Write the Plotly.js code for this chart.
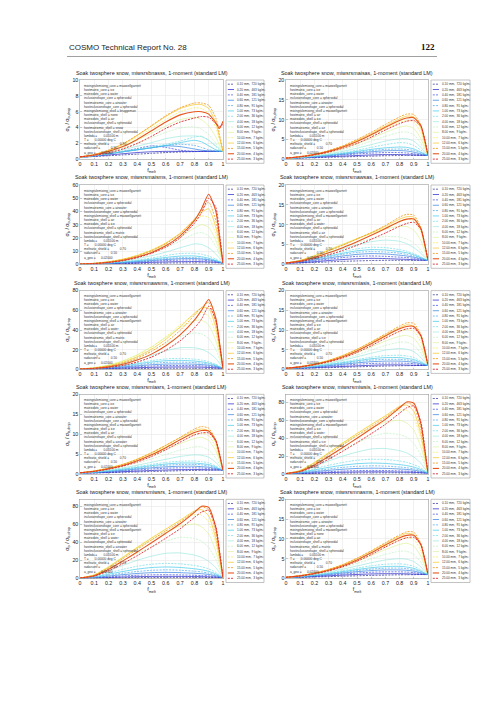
<!DOCTYPE html>
<html><head><meta charset="utf-8">
<script src="https://cdn.plot.ly/plotly-3.0.1.min.js"></script>
<style>html,body{margin:0;padding:0;background:#fff}#chart{width:504px;height:712px}</style>
</head><body><div id="chart"></div>
<script>
// ---------------- data ----------------
const fMelt = [0, 0.1, 0.2, 0.3, 0.4, 0.5, 0.6, 0.7, 0.8, 0.85, 0.9, 0.95, 0.975, 1];
const sizeLabels = ['0.10','0.20','0.40','0.60','0.80','1.00','2.00','4.00','6.00','8.00','10.00','12.00','15.00','20.00','25.00'];
const densities = [720, 463, 181, 121, 91, 73, 36, 18, 12, 9, 7, 6, 5, 4, 3];
const shellCodes = ['bnasss','maisas','maisms','mawsas','mawsms','miasis','miasrs','miwsis','miwsrs','mnasms'];
const yMax = [10, 20, 60, 20, 80, 20, 20, 89, 88, 20];
const yStep = [2, 5, 10, 5, 20, 5, 5, 20, 20, 5];

const p1 = [
 [0.25,0.35,0.45,0.55,0.65,0.75,0.85,0.92,0.97,0.99,1.0,1.0,1.0,1.0],
 [0.25,0.4,0.55,0.7,0.85,0.95,1.0,1.0,1.0,1.0,1.0,1.0,1.0,1.0],
 [0.25,0.45,0.7,1.0,1.35,1.7,1.5,1.15,1.0,1.0,1.0,1.0,1.0,1.0],
 [0.25,0.45,0.7,0.95,1.2,1.45,1.7,1.6,1.3,1.15,1.05,1.0,1.0,1.0],
 [0.25,0.45,0.7,0.95,1.2,1.45,1.7,1.9,1.75,1.5,1.2,1.05,1.0,1.0],
 [0.25,0.45,0.7,0.95,1.2,1.45,1.75,2.1,2.4,2.2,1.7,1.2,1.05,1.0],
 [0.25,0.45,0.7,1.0,1.3,1.6,1.9,2.3,2.8,2.9,2.4,1.6,1.2,1.0],
 [0.25,0.5,0.8,1.2,1.65,2.1,2.6,2.9,2.95,2.85,2.4,1.7,1.3,1.0],
 [0.25,0.5,0.9,1.4,2.0,2.7,3.4,3.95,4.1,3.8,3.1,2.0,1.4,1.0],
 [0.25,0.55,1.0,1.6,2.4,3.3,4.2,5.0,5.3,5.0,4.2,2.8,1.8,1.0],
 [0.3,0.6,1.1,1.8,2.8,3.9,5.0,6.0,6.5,6.4,5.8,4.0,2.5,1.0],
 [0.3,0.6,1.15,1.9,3.0,4.2,5.4,6.4,6.9,6.9,6.4,4.6,2.8,1.0],
 [0.3,0.6,1.15,1.95,3.05,4.25,5.5,6.5,7.1,7.1,6.8,5.2,3.2,1.0],
 [0.3,0.55,1.0,1.6,2.5,3.6,4.7,5.6,6.0,6.0,5.7,4.6,3.9,4.8],
 [0.3,0.5,0.8,1.3,2.0,2.9,3.9,4.7,5.2,5.4,5.3,4.5,4.1,4.4]
];
const p2 = [
 [0.2,0.3,0.4,0.5,0.6,0.7,0.8,0.9,0.95,0.97,1.0,1.0,1.0,1.0],
 [0.2,0.35,0.5,0.65,0.8,0.95,1.1,1.2,1.2,1.15,1.1,1.0,1.0,1.0],
 [0.2,0.4,0.6,0.85,1.1,1.35,1.55,1.7,1.7,1.6,1.4,1.15,1.05,1.0],
 [0.2,0.4,0.65,0.95,1.25,1.6,1.9,2.15,2.2,2.1,1.8,1.35,1.15,1.0],
 [0.2,0.4,0.7,1.0,1.4,1.8,2.2,2.5,2.6,2.5,2.2,1.6,1.25,1.0],
 [0.2,0.45,0.75,1.1,1.5,2.0,2.5,2.9,3.1,3.0,2.6,1.8,1.35,1.0],
 [0.2,0.45,0.8,1.2,1.7,2.3,3.0,3.7,4.2,4.1,3.5,2.3,1.6,1.0],
 [0.2,0.5,0.9,1.4,2.0,2.8,3.7,4.6,5.2,5.2,4.6,3.0,1.9,1.0],
 [0.25,0.55,1.0,1.6,2.4,3.4,4.6,5.8,6.8,6.9,6.2,4.0,2.4,1.0],
 [0.25,0.6,1.1,1.8,2.7,3.9,5.3,6.8,8.1,8.4,7.8,5.2,3.0,1.0],
 [0.3,0.65,1.2,2.0,3.0,4.4,6.0,7.7,9.3,9.8,9.4,6.6,3.7,1.0],
 [0.3,0.7,1.3,2.1,3.3,4.8,6.5,8.4,10.2,10.9,10.7,7.8,4.4,1.0],
 [0.3,0.7,1.3,2.2,3.4,5.0,6.8,8.8,10.7,11.4,11.3,8.6,4.9,1.0],
 [0.3,0.65,1.2,2.0,3.1,4.5,6.2,8.1,9.8,10.4,10.5,8.5,5.2,1.0],
 [0.3,0.6,1.1,1.8,2.8,4.0,5.6,7.4,9.0,9.6,9.8,8.3,5.4,1.0]
];
const p3 = [
 [0.2,0.25,0.35,0.5,0.65,0.8,0.95,1.05,1.1,1.1,1.05,1.0,1.0,1.0],
 [0.2,0.3,0.5,0.8,1.1,1.5,1.8,2.0,2.1,2.0,1.8,1.5,1.25,1.0],
 [0.2,0.35,0.65,1.1,1.6,2.2,2.8,3.2,3.3,3.1,2.7,2.0,1.5,1.0],
 [0.2,0.38,0.75,1.3,2.0,2.8,3.6,4.2,4.3,4.0,3.4,2.4,1.7,1.0],
 [0.2,0.4,0.85,1.5,2.3,3.3,4.3,5.0,5.0,4.6,3.8,2.6,1.8,1.0],
 [0.2,0.45,0.95,1.7,2.7,3.9,5.2,6.2,6.3,5.7,4.6,3.0,2.0,1.0],
 [0.2,0.5,1.1,2.0,3.2,4.8,6.6,8.2,8.3,7.6,6.2,4.0,2.5,1.0],
 [0.2,0.6,1.4,2.6,4.3,6.5,9.2,12.5,15.4,15.0,12.5,7.8,4.5,1.0],
 [0.2,0.7,1.7,3.3,5.6,8.7,12.6,17.5,23.0,24.0,21.5,13.5,7.5,1.0],
 [0.2,0.75,1.9,3.7,6.4,10.0,14.5,20.5,27.5,30.0,28.0,18.0,10.0,1.0],
 [0.2,0.8,2.0,4.0,7.0,11.0,16.3,23.5,32.5,36.5,35.5,23.0,12.5,1.0],
 [0.2,0.75,1.9,3.8,6.6,10.6,16.0,23.5,34.0,39.5,42.0,28.0,15.0,1.0],
 [0.2,0.7,1.8,3.6,6.3,10.2,15.5,23.0,34.0,41.0,47.0,33.0,18.0,1.0],
 [0.2,0.6,1.5,3.0,5.5,9.0,14.0,21.5,33.0,42.0,53.0,40.0,21.0,1.0],
 [0.2,0.55,1.3,2.7,5.0,8.3,13.0,20.0,31.0,39.0,50.0,43.0,24.0,1.0]
];
const p4 = [
 [0.3,0.35,0.45,0.6,0.75,0.85,0.95,1.0,1.0,1.0,1.0,1.0,1.0,1.0],
 [0.3,0.4,0.65,0.95,1.2,1.4,1.5,1.45,1.3,1.25,1.15,1.05,1.0,1.0],
 [0.3,0.5,0.9,1.3,1.7,2.0,2.1,2.0,1.8,1.7,1.5,1.25,1.1,1.0],
 [0.3,0.6,1.1,1.6,2.1,2.5,2.7,2.6,2.3,2.1,1.8,1.4,1.2,1.0],
 [0.3,0.7,1.3,1.9,2.5,3.0,3.2,3.1,2.8,2.5,2.1,1.6,1.25,1.0],
 [0.3,0.75,1.4,2.1,2.8,3.4,3.7,3.6,3.2,2.9,2.4,1.7,1.3,1.0],
 [0.3,0.8,1.6,2.4,3.2,3.9,4.3,4.2,3.7,3.3,2.7,1.9,1.4,1.0],
 [0.3,0.9,1.9,2.9,3.9,4.9,5.7,6.1,5.8,5.2,4.2,2.8,1.8,1.0],
 [0.3,0.95,2.0,3.2,4.4,5.5,6.4,7.0,6.9,6.4,5.4,3.5,2.2,1.0],
 [0.3,1.0,2.2,3.7,5.1,6.5,7.8,8.9,9.6,9.5,8.6,6.0,3.5,1.0],
 [0.3,1.0,2.2,3.6,5.0,6.4,7.8,9.3,10.8,11.3,11.0,8.0,4.6,1.0],
 [0.3,0.95,2.1,3.5,4.9,6.4,7.9,9.6,11.4,12.0,11.9,8.8,5.0,1.0],
 [0.3,0.9,2.0,3.4,4.8,6.4,8.0,9.8,11.9,12.6,12.4,9.3,5.3,1.0],
 [0.3,0.8,1.7,2.9,4.2,5.7,7.3,9.0,10.8,11.4,11.4,9.0,5.4,1.0],
 [0.3,0.7,1.4,2.4,3.5,4.8,6.3,7.9,9.6,10.3,10.6,8.8,5.5,1.0]
];
const p5 = [
 [0.3,0.4,0.5,0.7,0.85,1.0,1.1,1.15,1.1,1.1,1.05,1.0,1.0,1.0],
 [0.3,0.5,0.9,1.3,1.7,2.1,2.4,2.5,2.4,2.3,2.0,1.6,1.3,1.0],
 [0.3,0.6,1.2,1.9,2.7,3.4,3.9,4.0,3.8,3.6,3.1,2.3,1.7,1.0],
 [0.3,0.7,1.5,2.5,3.6,4.7,5.4,5.6,5.3,4.9,4.2,3.0,2.1,1.0],
 [0.3,0.8,1.8,3.1,4.6,6.1,7.1,7.4,6.9,6.3,5.3,3.6,2.4,1.0],
 [0.3,0.9,2.1,3.7,5.6,7.5,8.8,9.2,8.5,7.7,6.4,4.3,2.8,1.0],
 [0.3,1.0,2.4,4.3,6.6,8.9,10.6,11.2,10.4,9.4,7.8,5.2,3.3,1.0],
 [0.35,1.3,3.2,6.0,9.8,14.2,18.8,22.0,22.0,20.5,17.0,11.0,6.5,1.0],
 [0.4,1.6,4.0,7.6,12.6,19.0,26.5,33.5,37.0,36.0,31.5,20.0,11.0,1.0],
 [0.45,1.8,4.5,8.8,15.0,23.0,32.5,42.5,49.5,50.0,45.0,29.0,16.0,1.0],
 [0.4,1.7,4.2,8.2,14.3,22.5,33.0,45.0,56.0,58.0,54.0,36.0,19.0,1.0],
 [0.4,1.5,3.7,7.2,12.8,20.5,30.5,43.0,57.0,62.5,62.0,42.0,22.0,1.0],
 [0.35,1.3,3.2,6.3,11.3,18.3,27.5,39.5,55.0,63.0,68.0,47.0,25.0,1.0],
 [0.3,1.1,2.6,5.2,9.5,15.5,24.0,35.0,50.0,60.0,71.0,52.0,28.0,1.0],
 [0.3,0.9,2.0,4.0,7.5,12.5,19.5,29.0,42.0,51.0,64.0,50.0,27.0,1.0]
];
const p6 = [
 [0.25,0.28,0.35,0.45,0.55,0.65,0.75,0.85,0.92,0.95,0.97,1.0,1.0,1.0],
 [0.25,0.3,0.45,0.6,0.75,0.9,1.05,1.15,1.15,1.1,1.05,1.0,1.0,1.0],
 [0.25,0.35,0.55,0.8,1.05,1.3,1.5,1.6,1.6,1.55,1.45,1.2,1.1,1.0],
 [0.25,0.4,0.65,0.95,1.3,1.65,1.95,2.1,2.1,2.0,1.8,1.4,1.15,1.0],
 [0.25,0.42,0.75,1.1,1.5,1.95,2.35,2.55,2.55,2.4,2.15,1.6,1.25,1.0],
 [0.25,0.45,0.8,1.25,1.7,2.2,2.7,3.0,3.0,2.8,2.5,1.8,1.35,1.0],
 [0.25,0.5,0.9,1.4,1.9,2.5,3.1,3.5,3.6,3.4,3.0,2.1,1.5,1.0],
 [0.25,0.55,1.0,1.6,2.3,3.2,4.1,4.9,5.3,5.1,4.5,3.0,1.9,1.0],
 [0.25,0.6,1.1,1.8,2.6,3.7,4.9,6.1,6.9,6.9,6.1,4.1,2.5,1.0],
 [0.25,0.65,1.2,2.0,3.0,4.3,5.7,7.2,8.4,8.6,7.9,5.5,3.2,1.0],
 [0.3,0.7,1.3,2.2,3.3,4.8,6.4,8.1,9.6,10.1,9.6,6.9,3.9,1.0],
 [0.3,0.72,1.4,2.3,3.55,5.1,6.9,8.8,10.6,11.3,11.0,8.1,4.6,1.0],
 [0.3,0.7,1.35,2.25,3.5,5.1,7.0,9.0,11.0,11.8,11.7,8.8,5.0,1.0],
 [0.3,0.65,1.25,2.05,3.2,4.7,6.5,8.5,10.3,10.9,10.9,8.6,5.2,1.0],
 [0.3,0.6,1.15,1.9,2.9,4.3,6.0,7.9,9.7,10.3,10.4,8.5,5.4,1.0]
];
const p7 = [
 [0.25,0.27,0.33,0.42,0.52,0.62,0.72,0.82,0.9,0.93,0.96,1.0,1.0,1.0],
 [0.25,0.3,0.42,0.58,0.73,0.88,1.0,1.1,1.12,1.1,1.05,1.0,1.0,1.0],
 [0.25,0.34,0.52,0.76,1.0,1.25,1.45,1.55,1.55,1.5,1.4,1.2,1.1,1.0],
 [0.25,0.38,0.62,0.92,1.25,1.55,1.8,1.95,1.95,1.85,1.7,1.35,1.15,1.0],
 [0.25,0.42,0.72,1.05,1.45,1.85,2.2,2.4,2.4,2.3,2.05,1.55,1.25,1.0],
 [0.25,0.45,0.8,1.2,1.65,2.1,2.5,2.75,2.75,2.6,2.35,1.75,1.3,1.0],
 [0.25,0.5,0.9,1.35,1.85,2.4,2.9,3.2,3.25,3.1,2.8,2.0,1.5,1.0],
 [0.25,0.55,1.0,1.55,2.2,2.95,3.7,4.4,4.8,4.7,4.2,2.9,1.9,1.0],
 [0.25,0.65,1.2,1.9,2.8,3.8,4.9,6.0,6.8,6.8,6.0,4.0,2.5,1.0],
 [0.3,0.72,1.35,2.2,3.3,4.6,6.1,7.6,8.9,9.2,8.4,5.8,3.4,1.0],
 [0.3,0.78,1.5,2.4,3.6,5.1,6.8,8.6,10.0,10.3,9.6,6.8,3.9,1.0],
 [0.3,0.78,1.5,2.45,3.75,5.35,7.2,9.1,10.9,11.3,10.8,7.8,4.4,1.0],
 [0.3,0.75,1.45,2.4,3.7,5.3,7.2,9.2,11.3,11.9,11.5,8.5,4.8,1.0],
 [0.3,0.7,1.3,2.15,3.3,4.8,6.6,8.6,10.4,10.9,10.8,8.4,5.0,1.0],
 [0.3,0.62,1.2,2.0,3.0,4.4,6.1,8.0,9.8,10.3,10.3,8.3,5.2,1.0]
];
const p8 = [
 [0.3,0.4,0.6,0.8,1.0,1.15,1.25,1.3,1.25,1.2,1.15,1.05,1.0,1.0],
 [0.3,0.6,1.1,1.6,2.0,2.3,2.45,2.4,2.2,2.1,1.9,1.5,1.2,1.0],
 [0.3,0.8,1.7,2.6,3.3,3.8,4.0,3.9,3.5,3.2,2.8,2.0,1.5,1.0],
 [0.3,1.1,2.6,4.1,5.3,6.2,6.5,6.3,5.6,5.1,4.3,2.9,2.0,1.0],
 [0.3,1.4,3.5,5.6,7.4,8.6,9.1,8.8,7.8,7.0,5.8,3.9,2.4,1.0],
 [0.3,1.8,4.6,7.4,9.8,11.5,12.2,11.8,10.5,9.4,7.7,5.0,3.0,1.0],
 [0.35,2.3,6.0,9.7,12.9,15.4,16.5,16.2,14.5,13.0,10.5,6.8,4.0,1.0],
 [0.4,3.0,8.5,14.5,20.0,24.5,28.0,28.5,26.0,23.5,19.0,12.0,6.5,1.0],
 [0.45,3.6,11.0,19.5,27.5,35.0,41.5,45.5,44.0,41.0,34.0,21.0,11.0,1.0],
 [0.5,4.0,13.0,23.5,33.5,43.0,51.5,58.0,60.0,57.0,49.0,30.0,16.0,1.0],
 [0.5,4.0,13.0,24.0,35.0,45.5,55.5,65.0,71.5,71.0,63.0,39.0,20.0,1.0],
 [0.5,3.8,12.5,23.5,34.5,45.0,55.0,65.0,75.5,77.0,70.0,44.0,23.0,1.0],
 [0.5,3.5,11.5,22.0,32.5,43.0,53.0,63.0,75.0,79.5,76.0,50.0,26.0,1.0],
 [0.5,3.0,10.0,19.5,29.5,40.0,50.5,61.0,74.0,80.5,79.0,56.0,30.0,1.0],
 [0.45,2.5,8.5,16.5,25.5,35.0,45.0,55.5,68.0,74.0,76.0,58.0,32.0,1.0]
];
const p9 = [
 [0.3,0.4,0.6,0.8,1.0,1.15,1.25,1.3,1.25,1.2,1.15,1.05,1.0,1.0],
 [0.3,0.6,1.1,1.6,2.0,2.3,2.4,2.35,2.15,2.05,1.85,1.5,1.2,1.0],
 [0.3,0.8,1.8,2.8,3.6,4.1,4.2,4.0,3.6,3.3,2.9,2.1,1.5,1.0],
 [0.3,1.1,2.7,4.3,5.6,6.5,6.8,6.5,5.8,5.3,4.5,3.0,2.0,1.0],
 [0.3,1.4,3.6,5.9,7.8,9.1,9.6,9.2,8.1,7.3,6.0,4.0,2.5,1.0],
 [0.3,1.8,4.8,7.8,10.4,12.2,12.8,12.3,10.8,9.7,7.9,5.1,3.1,1.0],
 [0.35,2.3,6.2,10.2,13.6,15.9,16.8,16.3,14.5,13.0,10.6,6.8,4.0,1.0],
 [0.4,3.0,8.6,14.6,20.2,24.8,28.0,28.4,26.0,23.5,19.0,12.0,6.5,1.0],
 [0.45,3.6,11.2,19.8,27.8,35.2,41.5,45.8,44.5,41.5,34.5,21.0,11.0,1.0],
 [0.5,4.0,13.2,23.6,33.6,43.0,51.5,58.2,60.5,57.5,49.5,30.0,16.0,1.0],
 [0.5,4.1,13.2,24.0,35.0,45.3,55.2,64.5,71.0,70.5,62.5,39.0,20.0,1.0],
 [0.5,3.9,12.6,23.4,34.3,44.8,54.8,64.8,75.0,76.5,69.5,44.0,23.0,1.0],
 [0.5,3.6,11.6,22.0,32.4,42.8,52.8,62.8,74.5,79.5,76.5,50.0,26.0,1.0],
 [0.5,3.1,10.2,19.6,29.4,39.8,50.2,60.8,73.5,80.3,79.0,56.0,30.0,1.0],
 [0.45,2.6,8.6,16.6,25.4,34.8,44.8,55.2,67.8,73.8,75.8,58.0,32.0,1.0]
];
const p10 = [
 [0.25,0.3,0.38,0.48,0.58,0.68,0.78,0.86,0.93,0.95,0.97,1.0,1.0,1.0],
 [0.25,0.34,0.5,0.68,0.86,1.02,1.15,1.22,1.22,1.18,1.12,1.04,1.0,1.0],
 [0.25,0.38,0.6,0.86,1.12,1.38,1.58,1.68,1.68,1.62,1.5,1.24,1.1,1.0],
 [0.25,0.42,0.7,1.02,1.38,1.72,2.0,2.16,2.16,2.06,1.86,1.44,1.18,1.0],
 [0.25,0.45,0.78,1.16,1.58,2.0,2.38,2.6,2.62,2.48,2.2,1.64,1.28,1.0],
 [0.25,0.48,0.84,1.28,1.76,2.26,2.72,3.02,3.06,2.9,2.56,1.86,1.38,1.0],
 [0.25,0.52,0.94,1.44,2.0,2.62,3.2,3.6,3.7,3.52,3.08,2.16,1.54,1.0],
 [0.25,0.58,1.06,1.66,2.36,3.16,3.98,4.68,5.0,4.86,4.28,2.9,1.88,1.0],
 [0.25,0.62,1.16,1.88,2.76,3.8,4.98,6.08,6.88,6.86,6.1,4.08,2.5,1.0],
 [0.28,0.68,1.28,2.08,3.1,4.36,5.8,7.3,8.6,8.9,8.2,5.6,3.3,1.0],
 [0.3,0.72,1.36,2.24,3.36,4.8,6.44,8.2,9.8,10.3,9.8,7.0,4.0,1.0],
 [0.3,0.74,1.4,2.3,3.52,5.08,6.9,8.84,10.7,11.4,11.1,8.2,4.7,1.0],
 [0.3,0.72,1.38,2.28,3.52,5.12,7.0,9.04,11.0,11.8,11.7,8.8,5.0,1.0],
 [0.3,0.66,1.26,2.08,3.22,4.7,6.5,8.46,10.3,10.9,10.9,8.6,5.2,1.0],
 [0.3,0.62,1.16,1.92,2.96,4.34,6.04,7.94,9.66,10.3,10.4,8.5,5.4,1.0]
];
const panels = [p1, p2, p3, p4, p5, p6, p7, p8, p9, p10];

// ---------------- style / layout ----------------
const W = 504, H = 712;
const FONT = 'Liberation Sans, Arial, sans-serif';
const colors = ['#2a2a9a','#1f1fc8','#3a4ae6','#2f7fe0','#4fa8ec','#3fc8ea','#6fdce8','#9ee8e0',
                '#bff0bf','#dcf29a','#f2ec5a','#f8cc3c','#f4a02c','#e6581e','#e02830'];
const widths = [0.7,0.7,0.7,0.7,0.7,0.7,0.7,0.7,0.7,0.7,0.7,0.8,0.9,1.1,0.9];
const DASH = '2px,1.2px';
const colX = [[80, 223], [286, 428]];
const legX = [[226, 264], [431, 470]];
const rowY = [[80, 159.3], [185, 264.3], [290.6, 369.4], [394.3, 474], [499.3, 578.5]];
const px = v => v / W, py = v => 1 - v / H;

const mixMap = {bn:['bruggeman','none'], ma:['maxwellgarnett','air'], mi:['maxwellgarnett','ice'], mn:['maxwellgarnett','none']};
const incMap = {as:'air', is:'ice', ws:'water', ss:'snow', ms:'matrix', rs:'airwater'};
function infoText(code) {
  const m = mixMap[code.slice(0,2)], inc = incMap[code.slice(2,4)], hm = incMap[code.slice(4,6)];
  return [
    'mixingrulemixing_core = maxwellgarnett',
    'hostmatrix_core = ice',
    'matrixdots_core = water',
    'inclusionshape_core = spheroidal',
    'hostmatrixmix_core = airwater',
    'hostinclusionshape_core = spheroidal',
    'mixingrulemixing_shell = ' + m[0],
    'hostmatrix_shell = ' + m[1],
    'matrixdots_shell = ' + inc,
    'inclusionshape_shell = spheroidal',
    'hostmatrixmix_shell = ' + hm,
    'hostinclusionshape_shell = spheroidal',
    'lambda =       0.05500 m',
    'T =       0.00000 deg C',
    'meltratio_shield =            0.70',
    'radarconf =            0.50',
    'a_geo =      0.02000'
  ].join('<br>');
}

const data = [];
const layout = {
  width: W, height: H, margin: {l:0, r:0, t:0, b:0},
  paper_bgcolor: '#fff', plot_bgcolor: '#fff', showlegend: false,
  font: {family: FONT, size: 5.3, color: '#222'},
  shapes: [], annotations: []
};

// page header
layout.annotations.push({xref:'paper', yref:'paper', x:px(67), y:py(54), xanchor:'left', yanchor:'bottom',
  text:'COSMO Technical Report No. 28', showarrow:false, font:{family:FONT, size:8, color:'#222'}});
layout.annotations.push({xref:'paper', yref:'paper', x:px(437), y:py(54), xanchor:'right', yanchor:'bottom',
  text:'<b>122</b>', showarrow:false, font:{family:'Liberation Serif, serif', size:9, color:'#111'}});
layout.shapes.push({type:'line', xref:'paper', yref:'paper', x0:px(67), x1:px(437), y0:py(56.5), y1:py(56.5),
  line:{color:'#777', width:0.7}});

panels.forEach((pan, k) => {
  const row = Math.floor(k / 2), col = k % 2;
  const s = k === 0 ? '' : String(k + 1);
  const [x0, x1] = colX[col], [top, bot] = rowY[row];
  layout['xaxis' + s] = {
    domain: [px(x0), px(x1)], range: [0, 1], tick0: 0, dtick: 0.1, anchor: 'y' + s,
    showline: true, mirror: true, linecolor: '#9a9a9a', linewidth: 0.6,
    showgrid: true, gridcolor: '#e4e4e4', gridwidth: 0.5, zeroline: false,
    ticks: 'inside', ticklen: 1.5, tickwidth: 0.5, tickcolor: '#9a9a9a',
    tickfont: {size: 5.3, color: '#222'},
    title: {text: 'f<sub>melt</sub>', font: {size: 5.3, color: '#222'}, standoff: 0},
    fixedrange: true
  };
  layout['yaxis' + s] = {
    domain: [py(bot), py(top)], range: [0, yMax[k]], tick0: 0, dtick: yStep[k], anchor: 'x' + s,
    showline: true, mirror: true, linecolor: '#9a9a9a', linewidth: 0.6,
    showgrid: true, gridcolor: '#e4e4e4', gridwidth: 0.5, zeroline: false,
    ticks: 'inside', ticklen: 1.5, tickwidth: 0.5, tickcolor: '#9a9a9a',
    tickfont: {size: 5.3, color: '#222'},
    title: {text: 'σ<sub>b</sub> / σ<sub>b,drop</sub>', font: {size: 5.3, color: '#222'}, standoff: 2},
    fixedrange: true
  };
  pan.forEach((ys, i) => {
    data.push({
      x: fMelt, y: ys, xaxis: 'x' + s, yaxis: 'y' + s, type: 'scatter', mode: 'lines',
      name: sizeLabels[i] + ' mm, ' + densities[i] + ' kg/m³', showlegend: false, hoverinfo: 'skip',
      line: {color: colors[i], width: widths[i], dash: i % 2 === 0 ? DASH : 'solid', shape: 'spline', smoothing: 0.6}
    });
  });
  // panel title
  layout.annotations.push({xref:'paper', yref:'paper', x:px((x0 + x1) / 2), y:py(top - 2.5), xanchor:'center', yanchor:'bottom',
    text:'Soak twosphere snow, miwsrs' + shellCodes[k] + ', 1-moment (standard LM)', showarrow:false,
    font:{size:5.4, color:'#222'}});
  // parameter text block
  layout.annotations.push({xref:'paper', yref:'paper', x:px(x0 + 2), y:py(top + 1.5), xanchor:'left', yanchor:'top', align:'left',
    text: infoText(shellCodes[k]), showarrow:false, font:{size:3.2, color:'#333'}});
  // legend box
  const [lx0, lx1] = legX[col];
  const lTop = top, lBot = bot + 4;
  layout.shapes.push({type:'rect', xref:'paper', yref:'paper', x0:px(lx0), x1:px(lx1), y0:py(lBot), y1:py(lTop),
    line:{color:'#9a9a9a', width:0.6}, fillcolor:'#fff'});
  const step = (lBot - lTop - 3) / sizeLabels.length;
  sizeLabels.forEach((lab, i) => {
    const yy = lTop + 1.5 + step * (i + 0.5);
    layout.shapes.push({type:'line', xref:'paper', yref:'paper', x0:px(lx0 + 1.8), x1:px(lx0 + 8), y0:py(yy), y1:py(yy),
      line:{color:colors[i], width:widths[i], dash: i % 2 === 0 ? DASH : 'solid'}});
    layout.annotations.push({xref:'paper', yref:'paper', x:px(lx0 + 8.8), y:py(yy), xanchor:'left', yanchor:'middle',
      text: lab + ' mm,  ' + densities[i] + ' kg/m³', showarrow:false, font:{size:3.1, color:'#333'}});
  });
});

Plotly.newPlot('chart', data, layout, {staticPlot: true, displayModeBar: false});
</script>
</body></html>
